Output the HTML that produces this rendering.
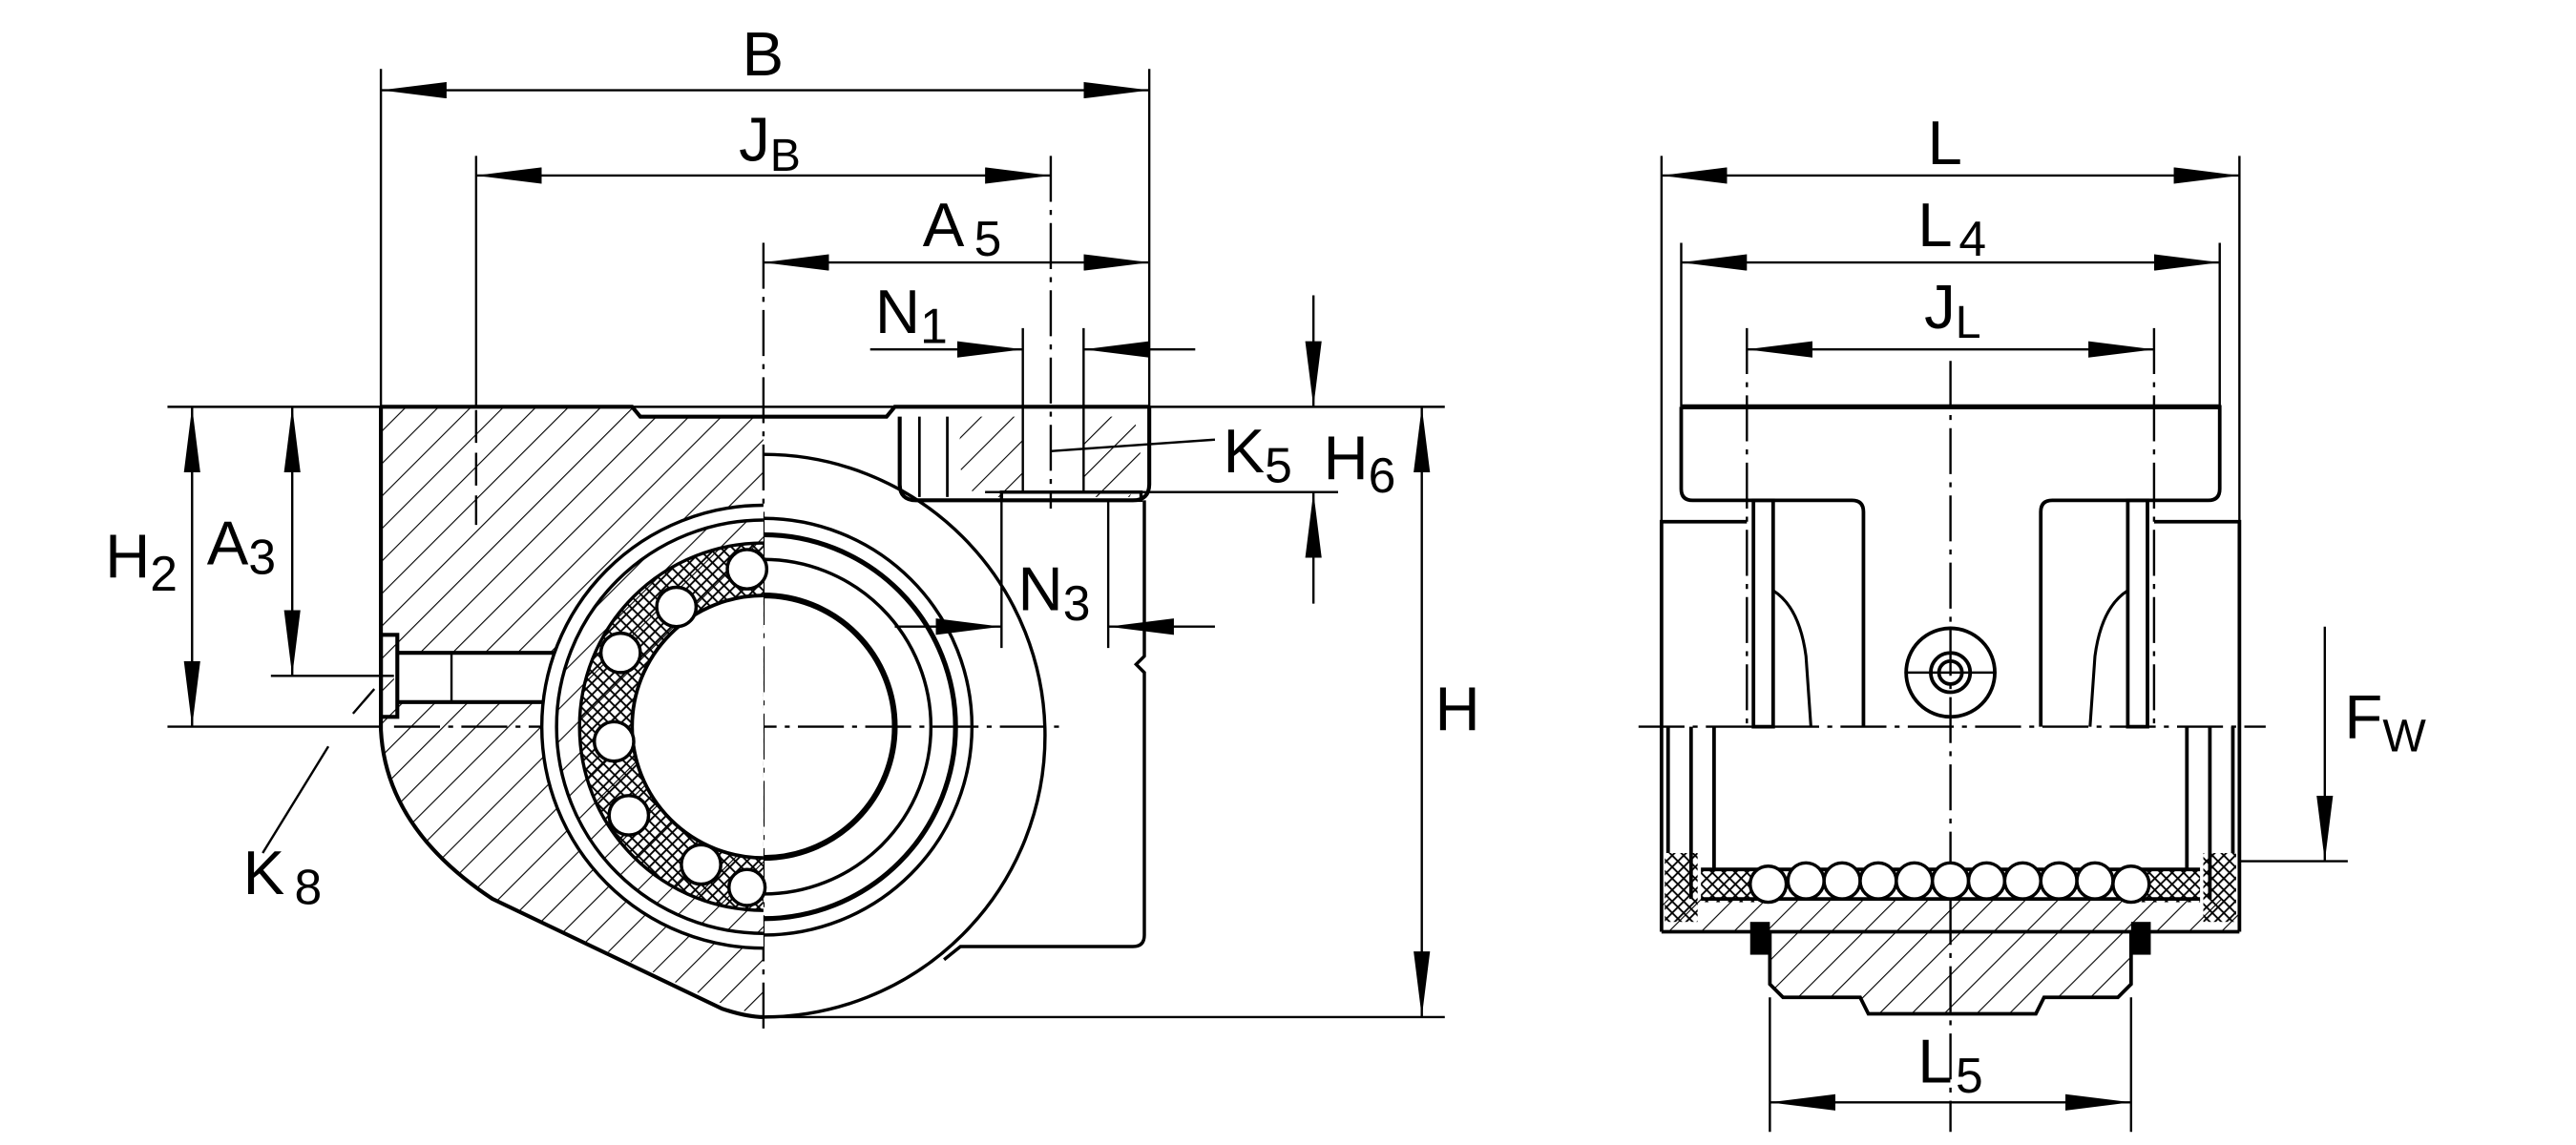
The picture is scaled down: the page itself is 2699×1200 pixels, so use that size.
<!DOCTYPE html>
<html><head><meta charset="utf-8"><style>
html,body{margin:0;padding:0;background:#fff;}
svg{display:block;}
text{font-family:"Liberation Sans","DejaVu Sans",sans-serif;fill:#000;}
</style></head><body>
<svg width="2699" height="1200" viewBox="0 0 1569 698" preserveAspectRatio="none" xmlns="http://www.w3.org/2000/svg">
<defs>
<marker id="a" viewBox="0 0 40 10" refX="40" refY="5" markerWidth="40" markerHeight="10" markerUnits="userSpaceOnUse" orient="auto-start-reverse"><path d="M0,0 L40,5 L0,10 Z" fill="#000"/></marker>
<pattern id="h" patternUnits="userSpaceOnUse" width="14" height="14" patternTransform="rotate(45)"><line x1="0" y1="0" x2="0" y2="14" stroke="#000" stroke-width="1.3"/></pattern>
<pattern id="x" patternUnits="userSpaceOnUse" width="7" height="7"><path d="M0,0 L7,7 M7,0 L0,7" stroke="#000" stroke-width="1.1"/></pattern>
<clipPath id="lh"><rect x="0" y="0" width="465" height="692"/></clipPath>
<clipPath id="rh"><rect x="465" y="0" width="400" height="692"/></clipPath>
</defs>
<g fill="none" stroke="#000" stroke-width="1.4">
<line x1="232" y1="42" x2="232" y2="440"/>
<line x1="700" y1="42" x2="700" y2="248"/>
<line x1="232" y1="55" x2="700" y2="55" marker-start="url(#a)" marker-end="url(#a)"/>
<line x1="290" y1="95" x2="290" y2="248"/>
<line x1="290" y1="250" x2="290" y2="320" stroke-dasharray="20,6"/>
<line x1="640" y1="95" x2="640" y2="310" stroke-dasharray="28,5,3,5"/>
<line x1="290" y1="107" x2="640" y2="107" marker-start="url(#a)" marker-end="url(#a)"/>
<line x1="465" y1="148" x2="465" y2="630" stroke-dasharray="28,5,3,5"/>
<line x1="465" y1="160" x2="700" y2="160" marker-start="url(#a)" marker-end="url(#a)"/>
<line x1="623" y1="200" x2="623" y2="300"/>
<line x1="660" y1="200" x2="660" y2="300"/>
<line x1="530" y1="213" x2="623" y2="213" marker-end="url(#a)"/>
<line x1="728" y1="213" x2="660" y2="213" marker-end="url(#a)"/>
<line x1="102" y1="248" x2="880" y2="248"/>
<line x1="117" y1="248" x2="117" y2="443" marker-start="url(#a)" marker-end="url(#a)"/>
<line x1="178" y1="248" x2="178" y2="412" marker-start="url(#a)" marker-end="url(#a)"/>
<line x1="165" y1="412" x2="240" y2="412"/>
<line x1="102" y1="443" x2="232" y2="443"/>
<line x1="240" y1="443" x2="645" y2="443" stroke-dasharray="28,5,3,5"/>
<line x1="800" y1="180" x2="800" y2="248" marker-end="url(#a)"/>
<line x1="800" y1="368" x2="800" y2="300" marker-end="url(#a)"/>
<line x1="600" y1="300" x2="815" y2="300"/>
<line x1="866" y1="248" x2="866" y2="620" marker-start="url(#a)" marker-end="url(#a)"/>
<line x1="465" y1="620" x2="880" y2="620"/>
<line x1="545" y1="382" x2="610" y2="382" marker-end="url(#a)"/>
<line x1="740" y1="382" x2="675" y2="382" marker-end="url(#a)"/>
<line x1="610" y1="300" x2="610" y2="395"/>
<line x1="675" y1="305" x2="675" y2="395"/>
<line x1="640" y1="275" x2="740" y2="268"/>
<line x1="200" y1="455" x2="160" y2="520"/>
<line x1="215" y1="435" x2="228" y2="420"/>
</g>
<path d="M232,248 L388,248 L395,254 L465,254 L465,620 L440,612 Q370,580 300,548 Q235,505 232,445 Z M465,308 A135,135 0 0 0 465,578 Z" fill="url(#h)" fill-rule="evenodd" stroke="none"/>
<rect x="240" y="398" width="100" height="30" fill="#fff"/>
<g fill="none" stroke="#000" stroke-width="2.4">
<path d="M232,248 L385,248 L390,254 L540,254 L545,248 L700,248"/>
<path d="M232,248 L232,445 Q235,505 300,548 L440,615 Q455,620 465,620"/>
<rect x="232" y="387" width="10" height="50"/>
<line x1="242" y1="398" x2="340" y2="398"/><line x1="242" y1="428" x2="340" y2="428"/>
<line x1="275" y1="398" x2="275" y2="428" stroke-width="1.4"/>
<path d="M465,277 A168,168 0 0 1 465,620" stroke-width="2"/>
<path d="M548,254 L548,295 Q548,305 558,305 L690,305 Q700,305 700,295 L700,248"/>
<line x1="560" y1="254" x2="560" y2="303" stroke-width="1.6"/>
<line x1="577" y1="254" x2="577" y2="303" stroke-width="1.6"/>
<rect x="610" y="300" width="85" height="5" stroke-width="2"/>
<path d="M697,305 L697,400 L692,405 L697,410 L697,570 Q697,577 690,577 L585,577 L575,585" stroke-width="2"/>
</g>
<path d="M590,254 Q575,280 595,303 L623,303 L623,254 Z M660,254 L690,254 Q700,280 688,303 L660,303 Z" fill="url(#h)" stroke="none"/>
<g clip-path="url(#lh)" fill="none" stroke="#000">
<circle cx="465" cy="443" r="135" fill="#fff" stroke-width="2"/>
<circle cx="465" cy="443" r="126" fill="url(#h)" stroke-width="2"/>
<circle cx="465" cy="443" r="112" fill="url(#x)" stroke-width="2"/>
<circle cx="465" cy="443" r="80" fill="#fff" stroke-width="2.2"/>
</g>
<g fill="#fff" stroke="#000" stroke-width="2">
<circle cx="455" cy="347" r="12"/><circle cx="412" cy="370" r="12"/><circle cx="378" cy="398" r="12"/>
<circle cx="374" cy="452" r="12"/><circle cx="383" cy="497" r="12"/><circle cx="427" cy="527" r="12"/><circle cx="455" cy="541" r="11"/>
</g>
<g clip-path="url(#rh)" fill="none" stroke="#000">
<circle cx="465" cy="443" r="127" stroke-width="2"/>
<circle cx="465" cy="443" r="117" stroke-width="3"/>
<circle cx="465" cy="443" r="102" stroke-width="2"/>
<circle cx="465" cy="443" r="80" stroke-width="3.5"/>
</g>
<g font-size="38">
<text x="452" y="46">B</text>
<text x="450" y="98">J<tspan font-size="28" dy="6">B</tspan></text>
<text x="562" y="150">A<tspan font-size="30" dx="6" dy="6">5</tspan></text>
<text x="533" y="203">N<tspan font-size="30" dy="6">1</tspan></text>
<text x="745" y="288">K<tspan font-size="30" dy="6">5</tspan></text>
<text x="806" y="292">H<tspan font-size="30" dy="8">6</tspan></text>
<text x="620" y="372">N<tspan font-size="30" dy="6">3</tspan></text>
<text x="64" y="352">H<tspan font-size="30" dy="8">2</tspan></text>
<text x="126" y="344">A<tspan font-size="30" dy="6">3</tspan></text>
<text x="874" y="445">H</text>
<text x="148" y="545">K<tspan font-size="30" dx="6" dy="6">8</tspan></text>
<text x="1174" y="100">L</text>
<text x="1168" y="150">L<tspan font-size="30" dx="4" dy="6">4</tspan></text>
<text x="1172" y="200">J<tspan font-size="28" dy="6">L</tspan></text>
<text x="1428" y="450">F<tspan font-size="28" dy="8">W</tspan></text>
<text x="1168" y="660">L<tspan font-size="30" dx="2" dy="6">5</tspan></text>
</g>
<g fill="none" stroke="#000" stroke-width="1.4">
<line x1="1012" y1="95" x2="1012" y2="318"/><line x1="1364" y1="95" x2="1364" y2="318"/>
<line x1="1012" y1="107" x2="1364" y2="107" marker-start="url(#a)" marker-end="url(#a)"/>
<line x1="1024" y1="148" x2="1024" y2="248"/><line x1="1352" y1="148" x2="1352" y2="248"/>
<line x1="1024" y1="160" x2="1352" y2="160" marker-start="url(#a)" marker-end="url(#a)"/>
<line x1="1064" y1="200" x2="1064" y2="443" stroke-dasharray="28,5,3,5"/>
<line x1="1312" y1="200" x2="1312" y2="443" stroke-dasharray="28,5,3,5"/>
<line x1="1064" y1="213" x2="1312" y2="213" marker-start="url(#a)" marker-end="url(#a)"/>
<line x1="1188" y1="220" x2="1188" y2="690" stroke-dasharray="28,5,3,5"/>
<line x1="998" y1="443" x2="1380" y2="443" stroke-dasharray="28,5,3,5"/>
<line x1="1416" y1="382" x2="1416" y2="525" marker-end="url(#a)"/>
<line x1="1364" y1="525" x2="1430" y2="525"/>
<line x1="1078" y1="608" x2="1078" y2="690"/><line x1="1298" y1="608" x2="1298" y2="690"/>
<line x1="1078" y1="672" x2="1298" y2="672" marker-start="url(#a)" marker-end="url(#a)"/>
<line x1="1160" y1="410" x2="1216" y2="410"/>
</g>
<rect x="1012" y="548" width="352" height="20" fill="url(#h)"/>
<path d="M1078,568 L1298,568 L1298,600 L1290,608 L1245,608 L1240,618 L1138,618 L1133,608 L1086,608 L1078,600 Z" fill="url(#h)"/>
<rect x="1014" y="520" width="20" height="42" fill="url(#x)"/><rect x="1342" y="520" width="20" height="42" fill="url(#x)"/>
<rect x="1036" y="530" width="40" height="20" fill="url(#x)"/><rect x="1300" y="530" width="40" height="20" fill="url(#x)"/>
<g fill="none" stroke="#000" stroke-width="2.2">
<path d="M1024,248 L1352,248 L1352,298 Q1352,305 1345,305 L1250,305 Q1243,305 1243,312 L1243,443"/>
<path d="M1024,248 L1024,298 Q1024,305 1031,305 L1128,305 Q1135,305 1135,312 L1135,443"/>
<line x1="1024" y1="248" x2="1352" y2="248" stroke-width="3"/>
<path d="M1012,568 L1012,318 L1064,318"/><path d="M1364,568 L1364,318 L1312,318"/>
<line x1="1012" y1="568" x2="1364" y2="568"/>
<rect x="1068" y="305" width="12" height="138"/><rect x="1296" y="305" width="12" height="138"/>
<path d="M1080,360 Q1096,370 1100,400 L1103,443" stroke-width="1.8"/>
<path d="M1296,360 Q1280,370 1276,400 L1273,443" stroke-width="1.8"/>
<circle cx="1188" cy="410" r="27"/><circle cx="1188" cy="410" r="12"/><circle cx="1188" cy="410" r="7"/>
<line x1="1016" y1="443" x2="1016" y2="520"/><line x1="1030" y1="443" x2="1030" y2="548"/><line x1="1044" y1="443" x2="1044" y2="530"/>
<line x1="1360" y1="443" x2="1360" y2="520"/><line x1="1346" y1="443" x2="1346" y2="548"/><line x1="1332" y1="443" x2="1332" y2="530"/>
<path d="M1036,530 L1340,530"/><path d="M1036,548 L1340,548"/>
<path d="M1078,568 L1078,600 L1086,608 L1133,608 L1138,618 L1240,618 L1245,608 L1290,608 L1298,600 L1298,568"/>
</g>
<rect x="1066" y="562" width="12" height="20" fill="#000"/><rect x="1298" y="562" width="12" height="20" fill="#000"/>
<g fill="#fff" stroke="#000" stroke-width="2">
<circle cx="1077" cy="539" r="11"/><circle cx="1100" cy="537" r="11"/><circle cx="1122" cy="537" r="11"/><circle cx="1144" cy="537" r="11"/><circle cx="1166" cy="537" r="11"/><circle cx="1188" cy="537" r="11"/><circle cx="1210" cy="537" r="11"/><circle cx="1232" cy="537" r="11"/><circle cx="1254" cy="537" r="11"/><circle cx="1276" cy="537" r="11"/><circle cx="1298" cy="539" r="11"/>
</g>
</svg>
</body></html>
